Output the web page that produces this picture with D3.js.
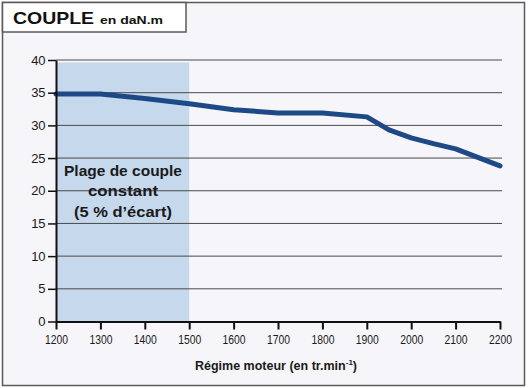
<!DOCTYPE html>
<html><head><meta charset="utf-8">
<script src="https://cdn.jsdelivr.net/npm/d3@7"></script>
<style>
html,body{margin:0;padding:0;background:#fff;}
svg{display:block;font-family:"Liberation Sans",Arial,Helvetica,sans-serif;}
</style></head>
<body>
<svg id="c" width="528" height="388"></svg>
<script>
const rpm =    [1200, 1300, 1400, 1500, 1600, 1700, 1800, 1900, 1950, 2000, 2050, 2100, 2200];
const torque = [34.8, 34.8, 34.1, 33.3, 32.4, 31.9, 31.9, 31.3, 29.3, 28.1, 27.2, 26.4, 23.8];
const xTicks = [1200, 1300, 1400, 1500, 1600, 1700, 1800, 1900, 2000, 2100, 2200];
const yTicks = [0, 5, 10, 15, 20, 25, 30, 35, 40];
const constantRange = [1200, 1500];
const title = "COUPLE";
const unit = "en daN.m";
const xLabel = "Régime moteur (en tr.min";
const bandLines = ["Plage de couple", "constant", "(5 % d’écart)"];

const svg = d3.select("#c");
const x = d3.scaleLinear().domain([1200, 2200]).range([56, 500]);
const y = d3.scaleLinear().domain([0, 40]).range([321.5, 60]);

// frame
svg.append("rect").attr("x", 2.5).attr("y", 2.5).attr("width", 522).attr("height", 383)
  .attr("fill", "#f6f5f9").attr("stroke", "#5a5a5a").attr("stroke-width", 1.5);
svg.append("rect").attr("x", 2.5).attr("y", 2.5).attr("width", 183.5).attr("height", 29.5)
  .attr("fill", "#ffffff").attr("stroke", "#5a5a5a").attr("stroke-width", 1.5);
const t = svg.append("text").attr("x", 13).attr("y", 24).attr("fill", "#111").attr("font-weight", "bold");
t.append("tspan").attr("font-size", 16.5).attr("textLength", 81).attr("lengthAdjust", "spacingAndGlyphs").text(title);
t.append("tspan").attr("x", 100).attr("font-size", 11).attr("textLength", 63).attr("lengthAdjust", "spacingAndGlyphs").text(unit);

// constant band
svg.append("rect").attr("x", x(constantRange[0])).attr("y", 62.5)
  .attr("width", x(constantRange[1]) - x(constantRange[0])).attr("height", y(0) - 62.5)
  .attr("fill", "#c6d8ec");

// gridlines
svg.append("g").selectAll("line").data(yTicks.filter(d => d > 0)).join("line")
  .attr("x1", x(1200)).attr("x2", 502).attr("y1", d => y(d)).attr("y2", d => y(d))
  .attr("stroke", "#4a4a4a").attr("stroke-width", 1);

// band text
svg.append("g").selectAll("text").data(bandLines).join("text")
  .attr("x", 123).attr("y", (d, i) => 175.5 + i * 20.5)
  .attr("text-anchor", "middle").attr("font-size", 14.5).attr("font-weight", "bold").attr("fill", "#1a1a1a")
  .attr("textLength", (d, i) => [118, 70, 98][i]).attr("lengthAdjust", "spacingAndGlyphs")
  .text(d => d);

// line
svg.append("path").datum(rpm.map((r, i) => [r, torque[i]]))
  .attr("d", d3.line().x(d => x(d[0])).y(d => y(d[1])))
  .attr("fill", "none").attr("stroke", "#1d4a86").attr("stroke-width", 5)
  .attr("stroke-linejoin", "round").attr("stroke-linecap", "round");

// axes
const yAxis = d3.axisLeft(y).tickValues(yTicks).tickSize(8).tickPadding(3).tickSizeOuter(0);
const gy = svg.append("g").attr("transform", `translate(${x(1200)},0)`).call(yAxis);
gy.select(".domain").attr("stroke", "#111").attr("stroke-width", 2);
gy.selectAll(".tick line").attr("stroke", "#111").attr("stroke-width", 1.5);
gy.selectAll(".tick text").attr("font-size", 13).attr("fill", "#1a1a1a")
  .attr("letter-spacing", -0.4);

const xAxis = d3.axisBottom(x).tickValues(xTicks).tickFormat(d3.format("d")).tickSize(8).tickPadding(6).tickSizeOuter(0);
const gx = svg.append("g").attr("transform", `translate(0,${y(0)})`).call(xAxis);
gx.select(".domain").attr("stroke", "#111").attr("stroke-width", 2);
gx.selectAll(".tick line").attr("stroke", "#111").attr("stroke-width", 2);
gx.selectAll(".tick text").attr("font-size", 12.5).attr("fill", "#1a1a1a")
  .attr("textLength", 23).attr("lengthAdjust", "spacingAndGlyphs");

// x label
const xl = svg.append("text").attr("x", 276).attr("y", 370).attr("text-anchor", "middle")
  .attr("font-size", 12.5).attr("font-weight", "bold").attr("fill", "#1a1a1a");
xl.append("tspan").text(xLabel);
xl.append("tspan").attr("font-size", 8).attr("dy", -5).text("-1");
xl.append("tspan").attr("dy", 5).text(")");
</script>
</body></html>
